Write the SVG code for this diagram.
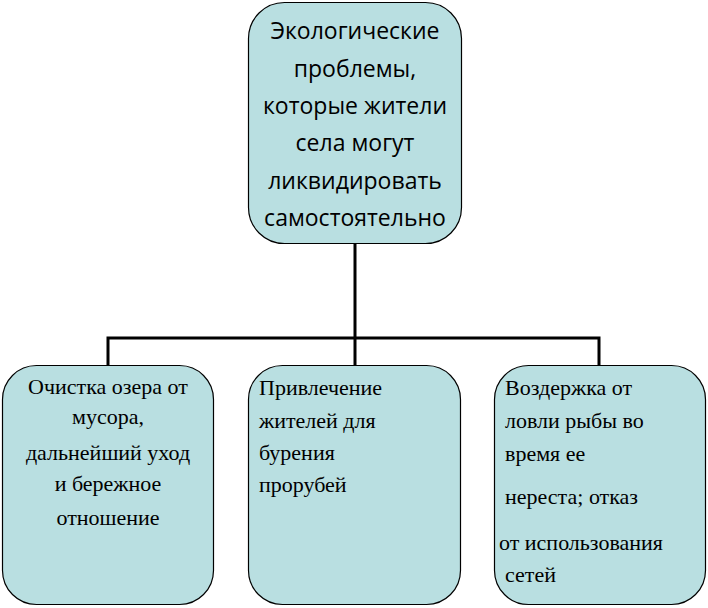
<svg xmlns="http://www.w3.org/2000/svg" width="708" height="608" viewBox="0 0 708 608">
<style>
.box{fill:#b9dfe1;stroke:#000;stroke-width:1.2}
.t1{font-family:"Open Sans","DejaVu Sans",sans-serif;font-size:23px;text-anchor:middle;fill:#000}
.t2{font-family:"Liberation Serif",serif;font-size:22px;fill:#000}
.c{fill:none;stroke:#000;stroke-width:3}
</style>
<rect width="708" height="608" fill="#fff"/>
<g id="connectors">
<path class="c" d="M355 244V338M108 365V338H599V365M355 338V365"/>
</g>
<g id="top">
<rect class="box" x="248.5" y="2.5" width="213" height="241" rx="36"/>
<text class="t1" x="355" y="39">Экологические</text>
<text class="t1" x="355" y="77">проблемы,</text>
<text class="t1" x="355" y="114">которые жители</text>
<text class="t1" x="355" y="151">села могут</text>
<text class="t1" x="355" y="189">ликвидировать</text>
<text class="t1" x="355" y="226">самостоятельно</text>
</g>
<g id="left">
<rect class="box" x="2.5" y="365.5" width="211" height="239" rx="34"/>
<text class="t2" text-anchor="middle" x="108" y="394">Очистка озера от</text>
<text class="t2" text-anchor="middle" x="108" y="424">мусора,</text>
<text class="t2" text-anchor="middle" x="108" y="460">дальнейший уход</text>
<text class="t2" text-anchor="middle" x="108" y="491">и бережное</text>
<text class="t2" text-anchor="middle" x="108" y="525">отношение</text>
</g>
<g id="middle">
<rect class="box" x="248.5" y="365.5" width="212" height="239" rx="34"/>
<text class="t2" x="259" y="395">Привлечение</text>
<text class="t2" x="259" y="428">жителей  для</text>
<text class="t2" x="259" y="460">бурения</text>
<text class="t2" x="259" y="492">прорубей</text>
</g>
<g id="right">
<rect class="box" x="494.5" y="365.5" width="211" height="239" rx="34"/>
<text class="t2" x="505" y="395">Воздержка от</text>
<text class="t2" x="505" y="428">ловли рыбы во</text>
<text class="t2" x="505" y="461">время ее</text>
<text class="t2" x="505" y="504">нереста; отказ</text>
<text class="t2" x="499" y="550">от использования</text>
<text class="t2" x="505" y="582">сетей</text>
</g>
</svg>
